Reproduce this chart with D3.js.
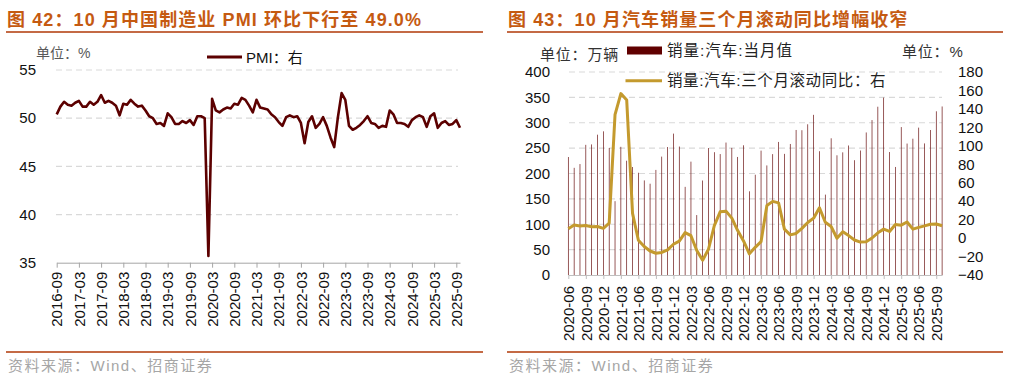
<!DOCTYPE html>
<html>
<head>
<meta charset="utf-8">
<script src="https://cdn.jsdelivr.net/npm/d3@7"></script>
<style>
  body { margin: 0; background: #fff; }
  svg { display: block; }
  .tick text { font-family: "Liberation Sans", Arial, sans-serif; fill: #111; }
</style>
</head>
<body>
<div id="svg-container"></div>
<script>
////////////////////////////////////////////////////////////////////
////////////////////////////  Data  ///////////////////////////////

// 图42: PMI, 2016-09 ~ 2025-10
const pmiStart = new Date(2016, 8, 1);
const pmiValues = [
  50.4, 51.2, 51.7, 51.4,
  51.3, 51.6, 51.8, 51.2, 51.2, 51.7, 51.4, 51.7, 52.4, 51.6, 51.8, 51.6,
  51.3, 50.3, 51.5, 51.4, 51.9, 51.5, 51.2, 51.3, 50.8, 50.2, 50.0, 49.4,
  49.5, 49.2, 50.5, 50.1, 49.4, 49.4, 49.7, 49.5, 49.8, 49.3, 50.2, 50.2,
  50.0, 35.7, 52.0, 50.8, 50.6, 50.9, 51.1, 51.0, 51.5, 51.4, 52.1, 51.9,
  51.3, 50.6, 51.9, 51.1, 51.0, 50.9, 50.4, 50.1, 49.6, 49.2, 50.1, 50.3,
  50.1, 50.2, 49.5, 47.4, 49.6, 50.2, 49.0, 49.4, 50.1, 49.2, 48.0, 47.0,
  50.1, 52.6, 51.9, 49.2, 48.8, 49.0, 49.3, 49.7, 50.2, 49.5, 49.4, 49.0,
  49.2, 49.1, 50.8, 50.4, 49.5, 49.5, 49.4, 49.1, 49.8, 50.1, 50.3, 50.1,
  49.1, 50.2, 50.5, 49.0, 49.5, 49.7, 49.3, 49.4, 49.8, 49.0
];
const pmiTickLabels = [
  "2016-09", "2017-03", "2017-09", "2018-03", "2018-09", "2019-03", "2019-09",
  "2020-03", "2020-09", "2021-03", "2021-09", "2022-03", "2022-09", "2023-03",
  "2023-09", "2024-03", "2024-09", "2025-03", "2025-09"
];
const pmiYTicks = [35, 40, 45, 50, 55];

// 图43: 汽车销量, 2020-06 ~ 2025-10
const autoStart = new Date(2020, 5, 1);
const autoSales = [ // 万辆
  232.5, 211.2, 218.6, 256.5, 257.3, 276.5, 283.1,
  250.3, 145.5, 252.6, 225.2, 212.8, 201.5, 186.4, 179.9, 207.1, 233.3, 252.2, 278.6,
  253.1, 173.7, 223.4, 118.1, 186.2, 250.2, 242.0, 238.3, 261.0, 250.5, 232.6, 255.6,
  164.9, 197.6, 245.1, 215.9, 238.2, 262.2, 238.7, 258.2, 285.8, 285.3, 297.0, 315.6,
  243.9, 158.4, 269.4, 235.9, 241.7, 255.2, 226.2, 245.3, 280.9, 305.3, 331.6, 349.6,
  242.3, 212.9, 291.5, 259.0, 268.6, 290.4, 259.3, 285.7, 322.6, 332.1
];
const autoYoy3m = [ // %
  10.2, 14.2, 13.2, 13.6, 12.3, 12.6, 10.5,
  16.2, 133.7, 156.6, 149.6, 26.8, -2.3, -9.1, -14.0, -16.4, -15.6, -12.7, -6.7,
  -3.3, 6.0, 2.6, -13.5, -24.0, -12.1, 13.6, 28.5, 29.2, 21.6, 8.2, -3.1,
  -17.1, -10.0, -3.9, 35.3, 39.8, 38.2, 9.7, 3.5, 5.0, 10.5, 16.9, 21.6,
  32.9, 17.2, 12.6, -0.2, 6.9, 2.7, -2.1, -4.3, -4.0, 0.1, 5.7, 9.7,
  7.2, 14.8, 14.0, 17.5, 9.7, 11.6, 13.2, 15.0, 15.3, 13.4
];
const autoTickLabels = [
  "2020-06", "2020-09", "2020-12", "2021-03", "2021-06", "2021-09", "2021-12",
  "2022-03", "2022-06", "2022-09", "2022-12", "2023-03", "2023-06", "2023-09",
  "2023-12", "2024-03", "2024-06", "2024-09", "2024-12", "2025-03", "2025-06", "2025-09"
];
const autoYTicksLeft = [0, 50, 100, 150, 200, 250, 300, 350, 400];
const autoYTicksRight = [-40, -20, 0, 20, 40, 60, 80, 100, 120, 140, 160, 180];

////////////////////////////////////////////////////////////////////
////////////////////////////  Init  ///////////////////////////////
const width = 1013;
const height = 382;
const svg = d3.select("#svg-container").append("svg")
  .attr("width", width).attr("height", height);

const fmtMonth = d3.timeFormat("%Y-%m");
const titleColor = "#C55A11";
const ruleColor = "#C46A45";
const gridColor = "#D9D9D9";
const cnFont = '"Liberation Sans", "Noto Sans CJK SC", sans-serif';

function header(x0, x1, title) {
  svg.append("text")
    .attr("x", x0 + 1).attr("y", 26)
    .attr("font-family", cnFont).attr("font-weight", "bold")
    .attr("font-size", 18).attr("fill", titleColor)
    .attr("letter-spacing", 1.1)
    .text(title);
  svg.append("line")
    .attr("x1", x0).attr("x2", x1).attr("y1", 32).attr("y2", 32)
    .attr("stroke", ruleColor).attr("stroke-width", 2);
  svg.append("line")
    .attr("x1", x0).attr("x2", x1).attr("y1", 352).attr("y2", 352)
    .attr("stroke", ruleColor).attr("stroke-width", 2);
  svg.append("text")
    .attr("x", x0 + 2).attr("y", 371)
    .attr("font-family", cnFont).attr("font-size", 15).attr("fill", "#A6A6A6")
    .attr("letter-spacing", 1.5)
    .text("资料来源：Wind、招商证券");
}

function rotateLabels(g, off) {
  g.selectAll(".tick text")
    .attr("transform", "rotate(-90)")
    .attr("x", -off).attr("y", 0).attr("dy", "0.35em")
    .style("text-anchor", "end");
}

////////////////////////////////////////////////////////////////////
//////////////////////////  图42 PMI  /////////////////////////////
header(6, 483, "图 42：10 月中国制造业 PMI 环比下行至 49.0%");

const pmiData = pmiValues.map((v, i) => ({ date: d3.timeMonth.offset(pmiStart, i), value: v }));
const pmiIndex = new Map(pmiData.map((d, i) => [fmtMonth(d.date), i]));

const xPmi = d3.scaleLinear().domain([0, pmiValues.length - 1]).range([56.7, 460]);
const yPmi = d3.scaleLinear().domain([35, 55]).range([262.7, 70]);

// grid
svg.append("g").selectAll("line")
  .data(pmiYTicks.filter((d) => d > 35))
  .join("line")
  .attr("x1", 56).attr("x2", 458)
  .attr("y1", (d) => yPmi(d)).attr("y2", (d) => yPmi(d))
  .attr("stroke", gridColor).attr("stroke-width", 1.2)
  .attr("stroke-dasharray", "6,4");

// axes
const gxPmi = svg.append("g")
  .attr("transform", `translate(0,${yPmi(35)})`)
  .call(d3.axisBottom(xPmi)
    .tickValues(pmiTickLabels.map((l) => pmiIndex.get(l)))
    .tickFormat((d) => fmtMonth(pmiData[d].date))
    .tickSize(5).tickSizeOuter(0));
gxPmi.select(".domain").attr("stroke", "#A6A6A6");
gxPmi.selectAll(".tick line").attr("stroke", "#A6A6A6");
gxPmi.selectAll(".tick text").attr("font-size", 15);
rotateLabels(gxPmi, 9);

const gyPmi = svg.append("g")
  .attr("transform", "translate(36,0)")
  .call(d3.axisLeft(yPmi).tickValues(pmiYTicks).tickSize(0).tickPadding(0));
gyPmi.select(".domain").remove();
gyPmi.selectAll(".tick text").attr("font-size", 15);

// line
svg.append("path")
  .datum(pmiData)
  .attr("fill", "none")
  .attr("stroke", "#5C0000")
  .attr("stroke-width", 2.6)
  .attr("stroke-linejoin", "round")
  .attr("d", d3.line().x((d, i) => xPmi(i)).y((d) => yPmi(d.value)));

// unit + legend
svg.append("text")
  .attr("x", 36).attr("y", 58)
  .attr("font-family", cnFont).attr("font-size", 14).attr("fill", "#595959")
  .text("单位：%");
svg.append("line")
  .attr("x1", 207).attr("x2", 242).attr("y1", 57).attr("y2", 57)
  .attr("stroke", "#5C0000").attr("stroke-width", 3);
svg.append("text")
  .attr("x", 246).attr("y", 62.5)
  .attr("font-family", cnFont).attr("font-size", 15).attr("fill", "#111")
  .text("PMI：右");

////////////////////////////////////////////////////////////////////
//////////////////////////  图43 汽车  /////////////////////////////
header(507, 1003, "图 43：10 月汽车销量三个月滚动同比增幅收窄");

const autoData = autoSales.map((v, i) => ({
  date: d3.timeMonth.offset(autoStart, i), sales: v, yoy: autoYoy3m[i]
}));
const autoIndex = new Map(autoData.map((d, i) => [fmtMonth(d.date), i]));

const xAuto = d3.scaleLinear().domain([0, autoSales.length - 1]).range([568.3, 942.1]);
const yAutoL = d3.scaleLinear().domain([0, 400]).range([275, 72]);
const yAutoR = d3.scaleLinear().domain([-40, 180]).range([275, 72]);

svg.append("g").selectAll("line")
  .data(autoYTicksLeft.filter((d) => d > 0))
  .join("line")
  .attr("x1", 569).attr("x2", 942)
  .attr("y1", (d) => yAutoL(d)).attr("y2", (d) => yAutoL(d))
  .attr("stroke", gridColor).attr("stroke-width", 1.2)
  .attr("stroke-dasharray", "6,4");

// bars
const barW = 0.65;
svg.append("g").selectAll("rect")
  .data(autoData)
  .join("rect")
  .attr("x", (d, i) => xAuto(i) - barW / 2)
  .attr("width", barW)
  .attr("y", (d) => yAutoL(d.sales))
  .attr("height", (d) => yAutoL(0) - yAutoL(d.sales))
  .attr("fill", "#600000");

// axes
const gxAuto = svg.append("g")
  .attr("transform", `translate(0,${yAutoL(0)})`)
  .call(d3.axisBottom(xAuto)
    .tickValues(autoTickLabels.map((l) => autoIndex.get(l)))
    .tickFormat((d) => fmtMonth(autoData[d].date))
    .tickSize(4).tickSizeOuter(0));
gxAuto.select(".domain").attr("stroke", "#BFBFBF");
gxAuto.selectAll(".tick line").attr("stroke", "#BFBFBF");
gxAuto.selectAll(".tick text").attr("font-size", 15);
rotateLabels(gxAuto, 11);

const gyAutoL = svg.append("g")
  .attr("transform", "translate(550,0)")
  .call(d3.axisLeft(yAutoL).tickValues(autoYTicksLeft).tickSize(0).tickPadding(0));
gyAutoL.select(".domain").remove();
gyAutoL.selectAll(".tick text").attr("font-size", 15);

const gyAutoR = svg.append("g")
  .attr("transform", "translate(958,0)")
  .call(d3.axisRight(yAutoR).tickValues(autoYTicksRight).tickSize(0).tickPadding(0));
gyAutoR.select(".domain").remove();
gyAutoR.selectAll(".tick text").attr("font-size", 15);

// line
svg.append("path")
  .datum(autoData)
  .attr("fill", "none")
  .attr("stroke", "#C49A2E")
  .attr("stroke-width", 3)
  .attr("stroke-linejoin", "round")
  .attr("d", d3.line().x((d, i) => xAuto(i)).y((d) => yAutoR(d.yoy)));

// unit + legend
svg.append("text")
  .attr("x", 540).attr("y", 60)
  .attr("font-family", cnFont).attr("font-size", 15).attr("fill", "#333")
  .attr("letter-spacing", 0.8)
  .text("单位：万辆");
svg.append("text")
  .attr("x", 902).attr("y", 57)
  .attr("font-family", cnFont).attr("font-size", 15).attr("fill", "#333")
  .attr("letter-spacing", 0.8)
  .text("单位：%");
svg.append("rect")
  .attr("x", 627).attr("y", 46.5).attr("width", 35).attr("height", 8)
  .attr("fill", "#600000");
svg.append("text")
  .attr("x", 667).attr("y", 56)
  .attr("font-family", cnFont).attr("font-size", 15.5).attr("fill", "#222")
  .attr("letter-spacing", 1)
  .text("销量:汽车:当月值");
svg.append("line")
  .attr("x1", 625.5).attr("x2", 662).attr("y1", 80.7).attr("y2", 80.7)
  .attr("stroke", "#C49A2E").attr("stroke-width", 3);
svg.append("text")
  .attr("x", 667).attr("y", 86)
  .attr("font-family", cnFont).attr("font-size", 15.5).attr("fill", "#222")
  .attr("letter-spacing", 0.6)
  .text("销量:汽车:三个月滚动同比：右");
</script>
</body>
</html>
